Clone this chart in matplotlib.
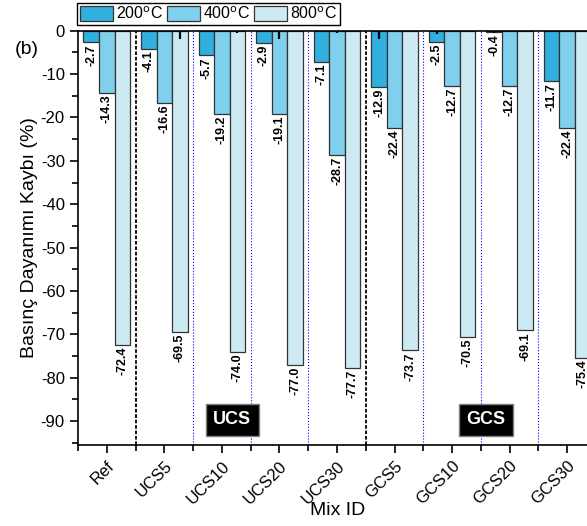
import numpy as np
import matplotlib.pyplot as plt
from matplotlib.ticker import MultipleLocator

plt.rcParams['font.family'] = ['Liberation Sans', 'DejaVu Sans']
plt.rcParams['axes.unicode_minus'] = False

mixes = ['Ref', 'UCS5', 'UCS10', 'UCS20', 'UCS30', 'GCS5', 'GCS10', 'GCS20', 'GCS30']
loss_200 = [-2.7, -4.1, -5.7, -2.9, -7.1, -12.9, -2.5, -0.4, -11.7]
loss_400 = [-14.3, -16.6, -19.2, -19.1, -28.7, -22.4, -12.7, -12.7, -22.4]
loss_800 = [-72.4, -69.5, -74.0, -77.0, -77.7, -73.7, -70.5, -69.1, -75.4]
err_200 = [0, 0, 0, 0, 0, 1.8, 0.8, 0.6, 0.4]
err_400 = [0, 0, 0, 1.8, 0.5, 0, 0, 0, 0]
err_800 = [0, 1.8, 0.5, 0, 0, 0, 0, 0, 0]
series_names = ['200$^{\\rm o}$C', '400$^{\\rm o}$C', '800$^{\\rm o}$C']
colors = ['#31b0e0', '#7fd0ec', '#cdeaf3']

fig = plt.figure(figsize=(5.87, 5.26), dpi=100)
ax = fig.add_axes([0.1329, 0.154, 0.8825, 0.7876])

x = np.arange(len(mixes))
w = 0.27
handles = []
for i, (vals, errs) in enumerate(zip([loss_200, loss_400, loss_800], [err_200, err_400, err_800])):
    pos = x + (i - 1) * w
    b = ax.bar(pos, vals, w, color=colors[i], edgecolor='#333333', linewidth=0.9,
               label=series_names[i], zorder=2)
    handles.append(b)
    for p, v, e in zip(pos, vals, errs):
        if e > 0:
            ax.vlines(p, 0, -e, color='black', linewidth=1.6, zorder=3)
        ax.text(p, v - 0.4, '%.1f' % v, rotation=90, ha='center', va='top',
                fontsize=9, fontweight='bold', zorder=4)

# group separators
for sx in np.arange(0.5, len(mixes) - 0.5, 1.0):
    if sx in (0.5, 4.5):
        ax.axvline(sx, color='black', linestyle=(0, (2, 1)), linewidth=1.3, zorder=1, clip_on=False)
    else:
        ax.axvline(sx, color='blue', linestyle=':', linewidth=0.8, zorder=1)

ax.text(2.18, -89.7, 'UCS', color='white', fontsize=13, fontweight='bold', ha='center', va='center',
        bbox=dict(facecolor='black', edgecolor='gray', boxstyle='square,pad=0.4'))
ax.text(6.59, -89.7, 'GCS', color='white', fontsize=13, fontweight='bold', ha='center', va='center',
        bbox=dict(facecolor='black', edgecolor='gray', boxstyle='square,pad=0.4'))

ax.set_xlim(-0.5, 8.5)
ax.set_ylim(-95.5, 0)
ax.yaxis.set_major_locator(MultipleLocator(10))
ax.yaxis.set_minor_locator(MultipleLocator(5))
ax.set_xticks(x)
ax.set_xticks(np.arange(-0.5, 9, 1.0), minor=True)
ax.set_xticklabels(mixes, rotation=45, ha='right', rotation_mode='anchor', fontsize=12)
ax.tick_params(axis='y', labelsize=12)
ax.tick_params(which='major', direction='out', length=6, width=1.2)
ax.tick_params(which='minor', direction='out', length=4, width=1.2)
for s in ax.spines.values():
    s.set_linewidth(1.2)

ax.set_ylabel('Basınç Dayanımı Kaybı (%)', fontsize=14, labelpad=2)
fig.text(0.575, 0.029, 'Mix ID', fontsize=14, ha='center', va='center')

fig.text(0.025, 0.905, '(b)', fontsize=14, va='center')

fig.legend(handles=handles, loc='upper left', bbox_to_anchor=(0.129, 0.997), ncol=3,
           fontsize=11.5, frameon=True, fancybox=False, edgecolor='black', framealpha=1,
           handlelength=2.1, handleheight=1.1, handletextpad=0.2, columnspacing=0.2,
           borderpad=0.15, borderaxespad=0.1)

fig.savefig('out.png', dpi=100)
